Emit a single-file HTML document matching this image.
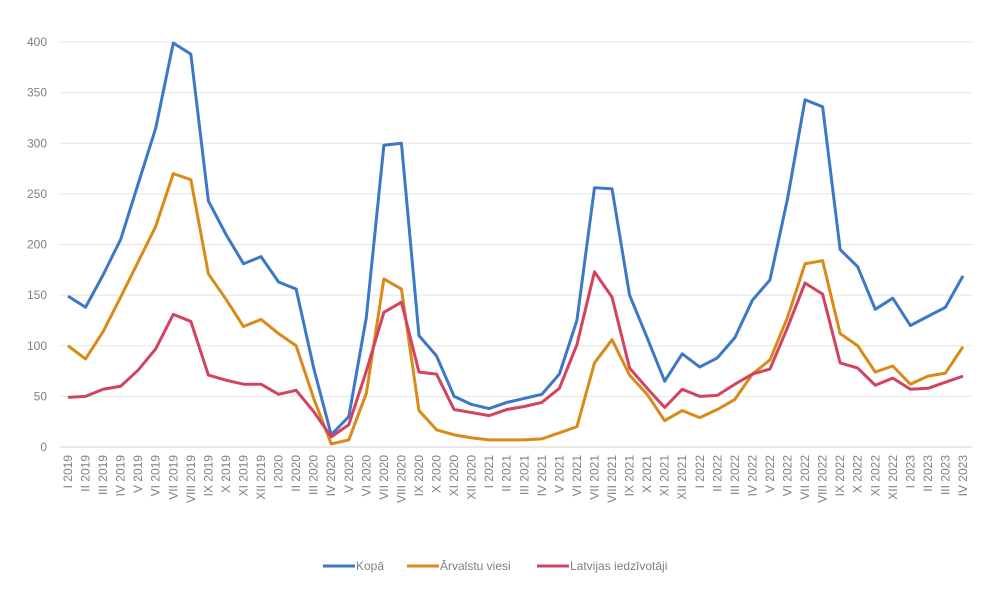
<!DOCTYPE html>
<html><head><meta charset="utf-8"><style>
body{margin:0;background:#fff;font-family:"Liberation Sans",sans-serif}
svg text{font-family:"Liberation Sans",sans-serif;fill:#808080;font-size:12px}
</style></head><body>
<svg id="c" width="1000" height="590"></svg>
<script>
const roman=["I","II","III","IV","V","VI","VII","VIII","IX","X","XI","XII"];
const categories=[];
for(const y of [2019,2020,2021,2022])for(const r of roman)categories.push(r+" "+y);
for(const r of ["I","II","III","IV"])categories.push(r+" 2023");
const kopa=[149,138,170,205,260,315,399,388,243,210,181,188,163,156,78,12,30,128,298,300,110,90,50,42,38,44,48,52,72,125,256,255,150,108,65,92,79,88,108,145,165,245,343,336,195,178,136,147,120,129,138,169];
const arvalstu=[100,87,114,148,183,218,270,264,171,146,119,126,112,100,48,3,7,53,166,156,36,17,12,9,7,7,7,8,14,20,83,106,71,52,26,36,29,37,47,72,86,128,181,184,112,100,74,80,62,70,73,99];
const latvijas=[49,50,57,60,76,97,131,124,71,66,62,62,52,56,35,10,22,75,133,143,74,72,37,34,31,37,40,44,58,101,173,148,78,58,39,57,50,51,62,72,77,118,162,151,83,78,61,68,57,58,64,70];
const yTicks=[0,50,100,150,200,250,300,350,400];
const seriesNames=["Kopā","Ārvalstu viesi","Latvijas iedzīvotāji"];
const NS="http://www.w3.org/2000/svg",svg=document.getElementById("c");
const x0=68,x1=963,yb=447,yt=42;
const X=i=>x0+i*(x1-x0)/(categories.length-1);
const Y=v=>yb-v*(yb-yt)/400;
function mk(t,a,p){const e=document.createElementNS(NS,t);for(const k in a)e.setAttribute(k,a[k]);(p||svg).appendChild(e);return e;}
yTicks.forEach(v=>{
 const g=mk("line",{x1:60,x2:972,y1:Y(v),y2:Y(v),stroke:v===0?"#d0d0d0":"#e4e4e4","stroke-width":1});
 
 
 const t=mk("text",{x:47,y:Y(v)+4,"text-anchor":"end"});t.textContent=v;
 
 
});
categories.forEach((c,i)=>{
 const t=mk("text",{transform:`translate(${X(i)+4},455) rotate(-90)`,"text-anchor":"end"});t.textContent=c;
 
 
});
const colors=["#3b78c6","#d98a17","#d2435f"];
[kopa,arvalstu,latvijas].forEach((s,k)=>{
 const p=mk("polyline",{points:s.map((v,i)=>X(i)+","+Y(v)).join(" "),fill:"none",stroke:colors[k],"stroke-width":3,"stroke-linejoin":"round"});
 
 
});
const lx=[323,407,537];
seriesNames.forEach((n,k)=>{
 const g=mk("g",{});
 
 
 mk("line",{x1:lx[k],x2:lx[k]+32,y1:566,y2:566,stroke:colors[k],"stroke-width":3},g);
 const t=mk("text",{x:lx[k]+33,y:570},g);t.textContent=n;
});
</script>
</body></html>
